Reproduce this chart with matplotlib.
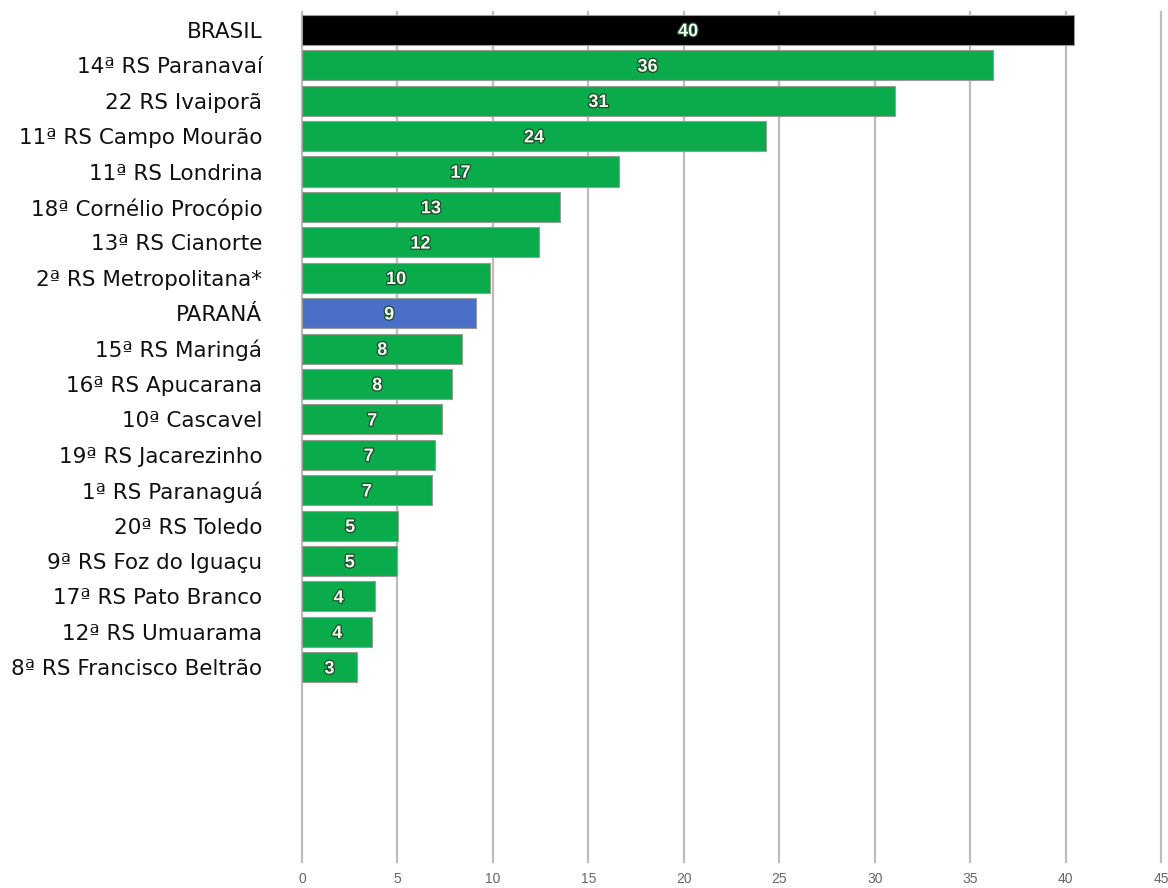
import matplotlib
matplotlib.use('Agg')
import matplotlib.pyplot as plt
import matplotlib.patheffects as pe
import numpy as np

# data (bar lengths), labels are the rounded values
regions = ['BRASIL', '14ª RS Paranavaí', '22 RS Ivaiporã', '11ª RS Campo Mourão',
           '11ª RS Londrina', '18ª Cornélio Procópio', '13ª RS Cianorte',
           '2ª RS Metropolitana*', 'PARANÁ', '15ª RS Maringá', '16ª RS Apucarana',
           '10ª Cascavel', '19ª RS Jacarezinho', '1ª RS Paranaguá', '20ª RS Toledo',
           '9ª RS Foz do Iguaçu', '17ª RS Pato Branco', '12ª RS Umuarama',
           '8ª RS Francisco Beltrão']
values = [40.45, 36.2, 31.05, 24.3, 16.6, 13.5, 12.4, 9.86, 9.13, 8.4, 7.87,
          7.35, 6.98, 6.8, 5.04, 5.0, 3.83, 3.68, 2.87]
labels = ['40', '36', '31', '24', '17', '13', '12', '10', '9', '8', '8',
          '7', '7', '7', '5', '5', '4', '4', '3']
xticks = [0, 5, 10, 15, 20, 25, 30, 35, 40, 45]

green = '#0aab4b'
colors = []
for r in regions:
    if r == 'BRASIL':
        colors.append('#000000')
    elif r == 'PARANÁ':
        colors.append('#4a6fc9')
    else:
        colors.append(green)

fig = plt.figure(figsize=(11.68, 8.88), dpi=100)
ax = fig.add_axes([0.2586, 0.0293, 0.7354, 0.957])

y = np.arange(len(regions))
bars = ax.barh(y, values, height=0.85, color=colors, edgecolor='#9a9a9a',
               linewidth=0.8, zorder=3)

for b, lab in zip(bars, labels):
    cx = b.get_x() + b.get_width() / 2
    cy = b.get_y() + b.get_height() / 2 + 0.05
    ax.text(cx, cy, lab, ha='center', va='center', color='#f0fff0',
            fontsize=13, fontweight='bold', family='Liberation Sans', zorder=4,
            path_effects=[pe.withStroke(linewidth=1.8, foreground='#1f4a2c')])

ax.set_xlim(0, 45)
ax.set_ylim(23.5, -0.5)
ax.set_xticks(xticks)
ax.set_xticklabels([str(t) for t in xticks], family='Liberation Sans',
                   fontsize=10, color='#666666')
ax.set_yticks(y)
ax.set_yticklabels(regions, family='DejaVu Sans', fontsize=15.5, color='#111111')
ax.tick_params(axis='both', length=0)
ax.tick_params(axis='y', pad=28.5)
ax.tick_params(axis='x', pad=7)
ax.grid(axis='x', color='#bdbdbd', linewidth=1.6, zorder=0)
for gl in ax.get_xgridlines():
    gl.set_clip_on(False)
for s in ax.spines.values():
    s.set_visible(False)

plt.savefig('out.png', dpi=100)
